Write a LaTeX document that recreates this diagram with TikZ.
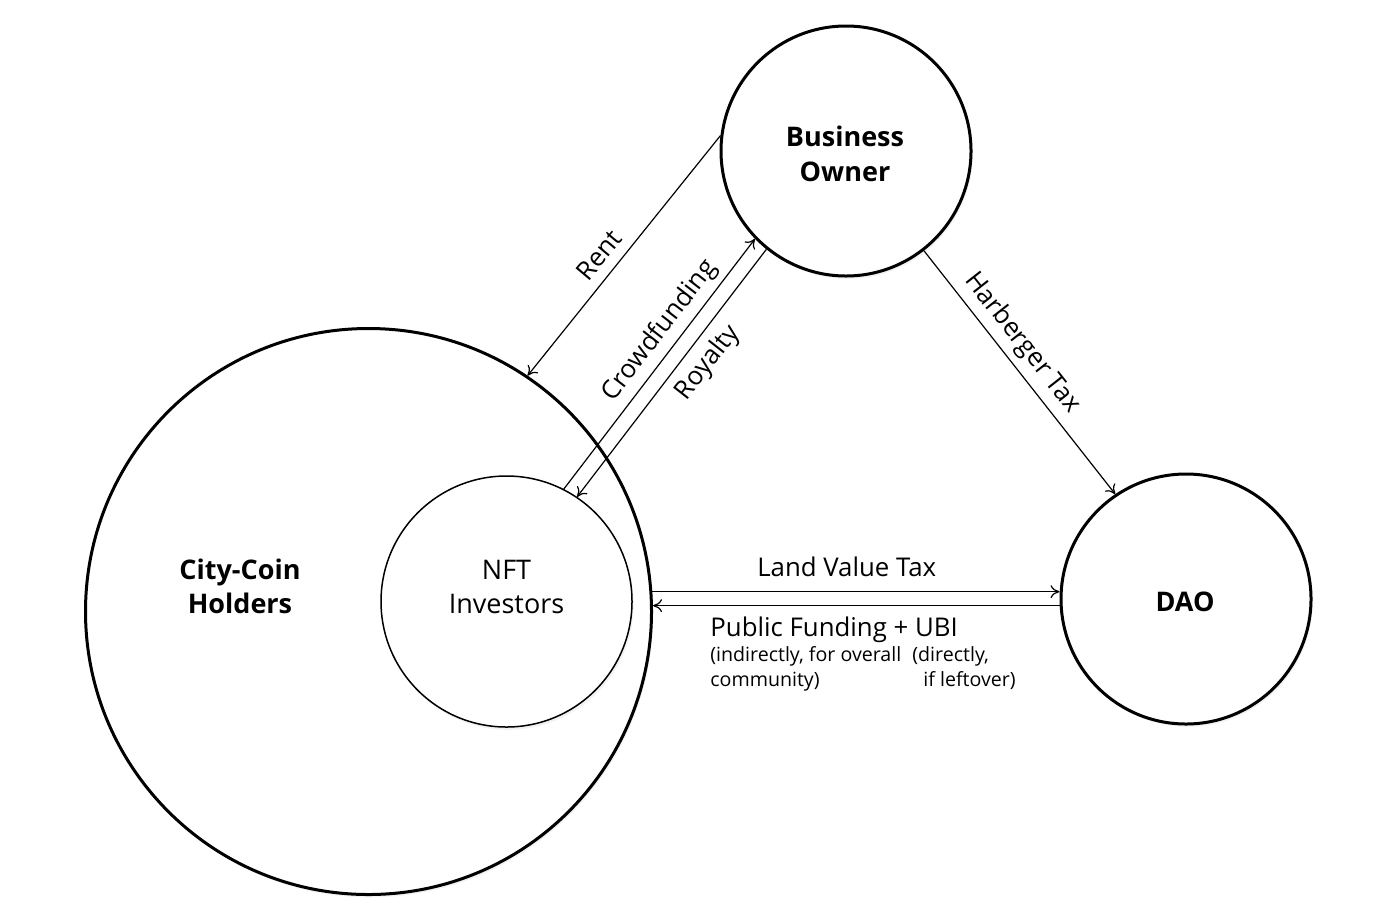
\documentclass[tikz,border=0pt]{standalone}
\usepackage{fontspec}
\setmainfont{Open Sans}
\usetikzlibrary{arrows.meta,calc,shadows}
\begin{document}
\begin{tikzpicture}[x=0.5pt,y=0.5pt,
  actor/.style={circle, draw, line width=1.5pt, fill=white, inner sep=0pt,
    drop shadow={opacity=0.10, shadow xshift=0.8pt, shadow yshift=-1.4pt}},
  lbl/.style={font=\fontsize{12.9}{15}\selectfont, inner sep=0pt},
  smalllbl/.style={font=\fontsize{9.8}{12}\selectfont, inner sep=0pt, anchor=base west},
  boldlbl/.style={font=\bfseries\fontsize{13.5}{16}\selectfont, inner sep=0pt, anchor=base},
  reglbl/.style={font=\fontsize{13.5}{16}\selectfont, inner sep=0pt, anchor=base},
  flow/.style={line width=0.6pt, -{To[length=4.5pt,width=6.5pt]}},
]
\useasboundingbox[fill=white] (0,0) rectangle (1400,-916);
% actors
\node[actor, minimum size=283pt] (cch) at (368.5,-611.5) {};
\node[actor, minimum size=125.5pt, line width=0.75pt] (nft) at (506.5,-601.5) {};
\node[actor, minimum size=125pt] (bo) at (846,-151) {};
\node[actor, minimum size=125pt] (dao) at (1186,-599) {};
% actor texts
\node[boldlbl] (cch1) at (240,-579) {City-Coin};
\node[boldlbl] (cch2) at (240,-613) {Holders};
\node[reglbl] (nft1) at (506.5,-579) {NFT};
\node[reglbl] (nft2) at (506.5,-613) {Investors};
\node[boldlbl] (bo1) at (845,-146.7) {Business};
\node[boldlbl] (bo2) at (845,-181.7) {Owner};
\node[boldlbl] (daot) at (1185,-611.7) {DAO};
% flows
\draw[flow] (bo.173.6) -- (cch.56.8);
\draw[flow] (nft.63.5) -- (bo.224);
\draw[flow] (bo.231.7) -- (nft.56.7);
\draw[flow] (bo.-52.3) -- (dao.124.1);
\draw[flow] (cch.4.2) -- (cch.4.2 -| dao.west);
\draw[flow] (dao.183.2) -- (dao.183.2 -| cch.east);
% flow labels
\node[lbl, rotate=50.1] (rent) at (599,-255) {Rent};
\node[lbl, rotate=52.4] (crowd) at (660,-331) {Crowdfunding};
\node[lbl, rotate=52] (roy) at (708,-363) {Royalty};
\node[lbl, rotate=-51.8] (harb) at (1022,-343) {Harberger Tax};
\node[lbl, anchor=base] (lvt) at (846.7,-576.7) {Land Value Tax};
\node[lbl, anchor=base west] (pf) at (710,-636) {Public Funding + UBI};
\node[smalllbl] (ind1) at (710,-661.5) {(indirectly, for overall};
\node[smalllbl] (ind2) at (710,-686.5) {community)};
\node[smalllbl] (dir1) at (912,-661.5) {(directly,};
\node[smalllbl] (dir2) at (923,-686.5) {if leftover)};
\end{tikzpicture}
\end{document}
